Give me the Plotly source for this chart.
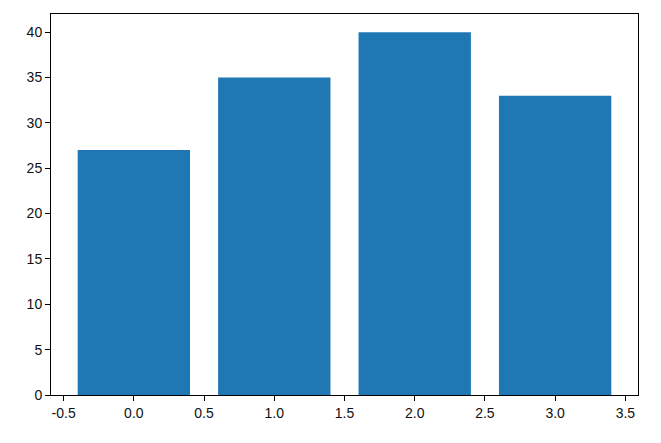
import plotly.graph_objects as go

categories = [0, 1, 2, 3]
values = [27, 35, 40, 33]
x_ticks = [-0.5, 0.0, 0.5, 1.0, 1.5, 2.0, 2.5, 3.0, 3.5]
y_ticks = [0, 5, 10, 15, 20, 25, 30, 35, 40]

fig = go.Figure(go.Bar(x=categories, y=values, width=0.8,
                       marker=dict(color="#1f77b4", line=dict(width=0))))

axis_common = dict(showline=True, linecolor="black", linewidth=1, mirror=True,
                   ticks="outside", ticklen=5, tickwidth=1, tickcolor="black",
                   showgrid=False, zeroline=False,
                   tickfont=dict(family="Liberation Sans, Arial, sans-serif", size=14, color="#111"))

fig.update_layout(
    width=661, height=443,
    margin=dict(l=51, r=23, t=14, b=48),
    paper_bgcolor="white", plot_bgcolor="white",
    xaxis=dict(range=[-0.59, 3.59], tickvals=x_ticks,
               ticktext=[f"{v:.1f}" for v in x_ticks], **axis_common),
    yaxis=dict(range=[0, 42], tickvals=y_ticks, **axis_common),
    showlegend=False,
)

fig.write_html("out.html", config={"displayModeBar": False},
               post_script="document.body.style.margin='0';")
